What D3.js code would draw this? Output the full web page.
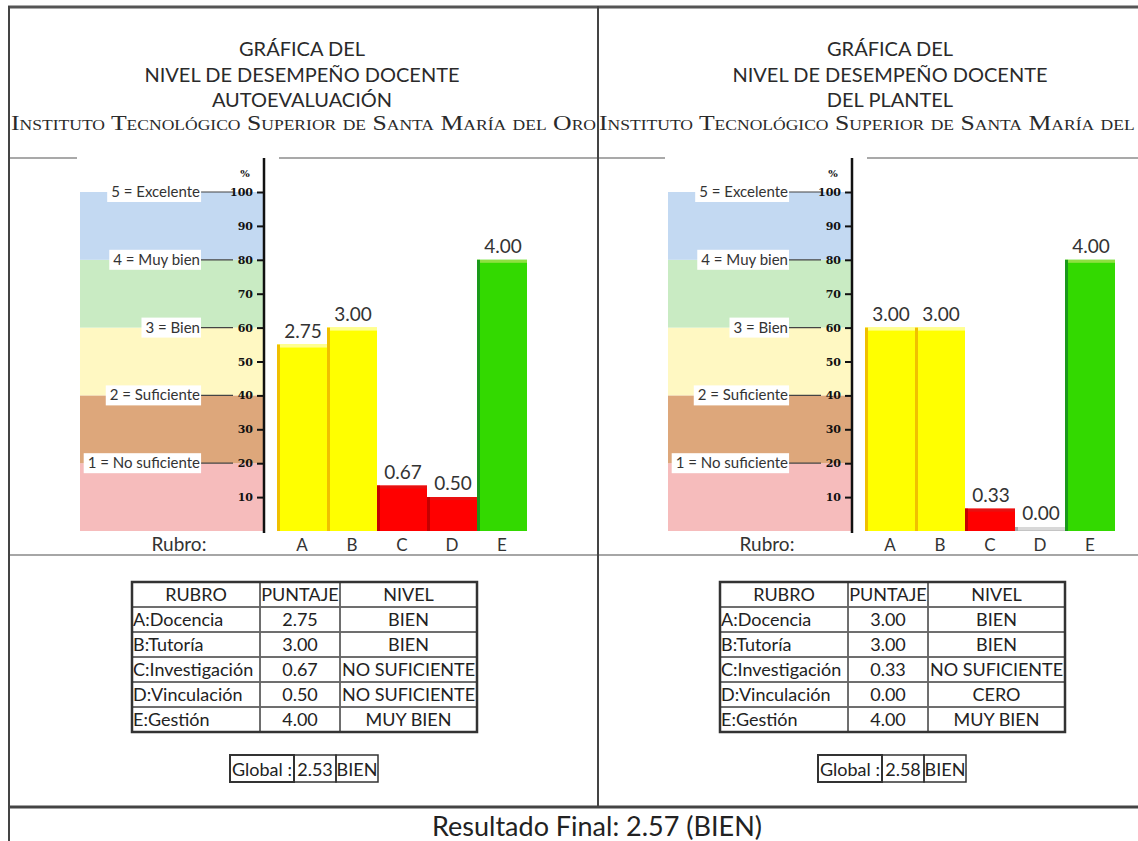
<!DOCTYPE html>
<html>
<head>
<meta charset="utf-8">
<script src="https://cdnjs.cloudflare.com/ajax/libs/d3/7.8.5/d3.min.js"></script>
<style>
body { margin: 0; background: #fff; overflow: hidden; }
svg text { font-family: Lato, "Open Sans", sans-serif; fill: #222; }
</style>
</head>
<body>
<div id="chart"></div>
<script>
/* global d3 */

// ---- data ----
var rubros = ["A", "B", "C", "D", "E"];
var rubroNames = ["A:Docencia", "B:Tutoría", "C:Investigación", "D:Vinculación", "E:Gestión"];
var autoScores = [2.75, 3.00, 0.67, 0.50, 4.00];
var autoLevels = ["BIEN", "BIEN", "NO SUFICIENTE", "NO SUFICIENTE", "MUY BIEN"];
var plantelScores = [3.00, 3.00, 0.33, 0.00, 4.00];
var plantelLevels = ["BIEN", "BIEN", "NO SUFICIENTE", "CERO", "MUY BIEN"];
var globalScores = [2.53, 2.58];
var globalLevels = ["BIEN", "BIEN"];
var finalScore = 2.57;
var finalLevel = "BIEN";

var percentTicks = [10, 20, 30, 40, 50, 60, 70, 80, 90, 100];
var levelPercents = [100, 80, 60, 40, 20];
var levelNames = ["5 = Excelente", "4 = Muy bien", "3 = Bien", "2 = Suficiente", "1 = No suficiente"];
var bandEdges = [0, 20, 40, 60, 80, 100];
var tableHeader = ["RUBRO", "PUNTAJE", "NIVEL"];
var titleLines = ["GRÁFICA DEL", "NIVEL DE DESEMPEÑO DOCENTE"];
var panelSubtitles = ["AUTOEVALUACIÓN", "DEL PLANTEL"];
var institute = "Instituto Tecnológico Superior de Santa María del Oro";

// ---- styles ----
var bandColors = ["#f6bcbc", "#dda77b", "#fff8c2", "#c9ebc3", "#c3d9f2"];
var barStyle = {
    "BIEN": {main: "#ffff00", side: "#f0c000", top: "#ffff90"},
    "NO SUFICIENTE": {main: "#ff0000", side: "#c40000", top: "#e81010"},
    "MUY BIEN": {main: "#33d900", side: "#1a991a", top: "#8fe040"},
    "CERO": {main: "#c4c4c4", side: "#a8a8a8", top: "#d8d8d8"}
};

var width = 1138, height = 841;
var panelShift = 588;

var svg = d3.select("#chart")
        .append("svg")
        .attr("width", width)
        .attr("height", height);

var y = d3.scaleLinear()
        .domain([0, 100])
        .range([531, 192]);

var x = d3.scaleBand()
        .domain(rubros)
        .range([277, 527])
        .padding(0);

function drawPanel(idx, scores, levels) {
    var g = svg.append("g")
            .attr("transform", "translate(" + idx * panelShift + ",0)");

    // titles
    var titles = titleLines.concat([panelSubtitles[idx]]);
    g.selectAll(".title")
            .data(titles)
            .enter()
            .append("text")
            .attr("class", "title")
            .attr("x", 302)
            .attr("y", function (d, i) { return 56 + i * 25.5; })
            .attr("text-anchor", "middle")
            .style("font-size", "20px")
            .style("fill", "#2a2a2a")
            .text(function (d) { return d; });

    g.append("text")
            .attr("x", 11)
            .attr("y", 130)
            .attr("textLength", 585)
            .attr("lengthAdjust", "spacingAndGlyphs")
            .style("font-family", "'Liberation Serif', 'DejaVu Serif', serif")
            .style("font-variant", "small-caps")
            .style("font-size", "22px")
            .style("fill", "#2a2a2a")
            .text(institute);

    // frame line under title
    g.append("line").attr("x1", 9).attr("x2", 77).attr("y1", 158).attr("y2", 158)
            .style("stroke", "#8c8c8c").style("stroke-width", 1.5);
    g.append("line").attr("x1", 279).attr("x2", 598).attr("y1", 158).attr("y2", 158)
            .style("stroke", "#8c8c8c").style("stroke-width", 1.5);

    // level bands
    g.selectAll(".band")
            .data(d3.range(bandEdges.length - 1))
            .enter()
            .append("rect")
            .attr("class", "band")
            .attr("x", 80)
            .attr("width", 264 - 80)
            .attr("y", function (i) { return y(bandEdges[i + 1]); })
            .attr("height", function (i) { return y(bandEdges[i]) - y(bandEdges[i + 1]); })
            .style("fill", function (i) { return bandColors[i]; });

    // level labels with connectors
    var lv = g.selectAll(".lvl")
            .data(levelPercents)
            .enter()
            .append("g")
            .attr("class", "lvl");

    lv.append("line")
            .attr("x1", 200).attr("x2", 233)
            .attr("y1", function (d) { return y(d); })
            .attr("y2", function (d) { return y(d); })
            .style("stroke", "#444").style("stroke-width", 1.2);

    lv.each(function (d, i) {
        var el = d3.select(this);
        var t = el.append("text")
                .attr("x", 200)
                .attr("y", y(d) + 5)
                .attr("text-anchor", "end")
                .style("font-size", "15px")
                .style("fill", "#333")
                .text(levelNames[i]);
        var bb = t.node().getBBox();
        el.insert("rect", "text")
                .attr("x", bb.x - 4)
                .attr("y", y(d) - 10)
                .attr("width", bb.width + 5)
                .attr("height", 20)
                .style("fill", "#fff");
    });

    // y axis
    var axis = g.append("g")
            .attr("transform", "translate(264,0)")
            .call(d3.axisLeft(y)
                    .tickValues(percentTicks)
                    .tickSize(7)
                    .tickPadding(4)
                    .tickFormat(d3.format("d")));
    axis.select(".domain").remove();
    axis.selectAll(".tick line").style("stroke", "#111").style("stroke-width", 2);
    axis.selectAll(".tick text")
            .style("font-family", "'DejaVu Serif', serif")
            .style("font-weight", "bold")
            .style("font-size", "11px")
            .style("fill", "#111");

    g.append("line")
            .attr("x1", 264).attr("x2", 264)
            .attr("y1", 158).attr("y2", 533)
            .style("stroke", "#111").style("stroke-width", 2.5);

    g.append("text")
            .attr("x", 245).attr("y", 177)
            .attr("text-anchor", "middle")
            .style("font-family", "'DejaVu Serif', serif")
            .style("font-weight", "bold")
            .style("font-size", "10px")
            .style("fill", "#111")
            .text("%");

    // bars
    var data = rubros.map(function (r, i) {
        return {rubro: r, name: rubroNames[i], score: scores[i], level: levels[i]};
    });

    var bars = g.selectAll(".bar")
            .data(data)
            .enter()
            .append("g")
            .attr("class", "bar");

    function barTop(d) {
        return Math.min(y(d.score * 20), y(0) - 4);
    }

    bars.append("rect")
            .attr("x", function (d) { return x(d.rubro); })
            .attr("y", barTop)
            .attr("width", x.bandwidth())
            .attr("height", function (d) { return y(0) - barTop(d); })
            .style("fill", function (d) { return barStyle[d.level].main; });

    bars.append("rect")
            .attr("x", function (d) { return x(d.rubro); })
            .attr("y", barTop)
            .attr("width", x.bandwidth())
            .attr("height", 3)
            .style("fill", function (d) { return barStyle[d.level].top; });

    bars.append("rect")
            .attr("x", function (d) { return x(d.rubro); })
            .attr("y", barTop)
            .attr("width", 3)
            .attr("height", function (d) { return y(0) - barTop(d); })
            .style("fill", function (d) { return barStyle[d.level].side; });

    bars.append("text")
            .attr("x", function (d) { return x(d.rubro) + x.bandwidth() / 2 + 1; })
            .attr("y", function (d) { return barTop(d) - 7; })
            .attr("text-anchor", "middle")
            .style("font-size", "19px")
            .style("fill", "#333")
            .text(function (d) { return d.score.toFixed(2); });

    bars.append("text")
            .attr("x", function (d) { return x(d.rubro) + x.bandwidth() / 2; })
            .attr("y", 551)
            .attr("text-anchor", "middle")
            .style("font-size", "17px")
            .style("fill", "#333")
            .text(function (d) { return d.rubro; });

    g.append("text")
            .attr("x", 179).attr("y", 551)
            .attr("text-anchor", "middle")
            .style("font-size", "19px")
            .style("fill", "#333")
            .text("Rubro:");

    g.append("line").attr("x1", 9).attr("x2", 598).attr("y1", 555).attr("y2", 555)
            .style("stroke", "#888").style("stroke-width", 1.5);

    // table
    var colX = [132, 260, 340, 477];
    var rowH = 25, tableTop = 582;
    var rows = [tableHeader].concat(data.map(function (d) {
        return [d.name, d.score.toFixed(2), d.level];
    }));

    var tbl = g.append("g").attr("class", "table");
    rows.forEach(function (row, r) {
        row.forEach(function (cell, c) {
            tbl.append("rect")
                    .attr("x", colX[c])
                    .attr("y", tableTop + r * rowH)
                    .attr("width", colX[c + 1] - colX[c])
                    .attr("height", rowH)
                    .style("fill", "none")
                    .style("stroke", "#666")
                    .style("stroke-width", 1.5);
            var left = (c === 0 && r > 0);
            tbl.append("text")
                    .attr("x", left ? colX[c] + 1 : (colX[c] + colX[c + 1]) / 2)
                    .attr("y", tableTop + r * rowH + 19)
                    .attr("text-anchor", left ? "start" : "middle")
                    .style("font-size", "18px")
                    .style("fill", "#222")
                    .text(cell);
        });
    });
    tbl.append("rect")
            .attr("x", colX[0]).attr("y", tableTop)
            .attr("width", colX[3] - colX[0])
            .attr("height", rowH * rows.length)
            .style("fill", "none")
            .style("stroke", "#333")
            .style("stroke-width", 2.5);

    // global box
    var gx = [230, 294, 336, 378];
    var gTexts = ["Global :", globalScores[idx].toFixed(2), globalLevels[idx]];
    gTexts.forEach(function (t, c) {
        g.append("rect")
                .attr("x", gx[c]).attr("y", 755)
                .attr("width", gx[c + 1] - gx[c]).attr("height", 27)
                .style("fill", "none")
                .style("stroke", "#333")
                .style("stroke-width", c === 0 ? 2 : 1.5);
        g.append("text")
                .attr("x", c === 0 ? gx[c] + 2 : (gx[c] + gx[c + 1]) / 2)
                .attr("y", 776)
                .attr("text-anchor", c === 0 ? "start" : "middle")
                .style("font-size", "18px")
                .style("fill", "#222")
                .text(t);
    });
}

drawPanel(0, autoScores, autoLevels);
drawPanel(1, plantelScores, plantelLevels);

// outer frame
var frame = [
    {x1: 8, y1: 7, x2: width, y2: 7, w: 3, c: "#555"},
    {x1: 9, y1: 6, x2: 9, y2: height, w: 2, c: "#444"},
    {x1: 598, y1: 6, x2: 598, y2: 807, w: 2, c: "#444"},
    {x1: 8, y1: 807, x2: width, y2: 807, w: 3, c: "#444"}
];
svg.selectAll(".frame")
        .data(frame)
        .enter()
        .append("line")
        .attr("x1", function (d) { return d.x1; })
        .attr("y1", function (d) { return d.y1; })
        .attr("x2", function (d) { return d.x2; })
        .attr("y2", function (d) { return d.y2; })
        .style("stroke", function (d) { return d.c; })
        .style("stroke-width", function (d) { return d.w; });

svg.append("text")
        .attr("x", 597)
        .attr("y", 836)
        .attr("text-anchor", "middle")
        .style("font-size", "27px")
        .style("fill", "#222")
        .text("Resultado Final: " + finalScore.toFixed(2) + " (" + finalLevel + ")");
</script>
</body>
</html>
